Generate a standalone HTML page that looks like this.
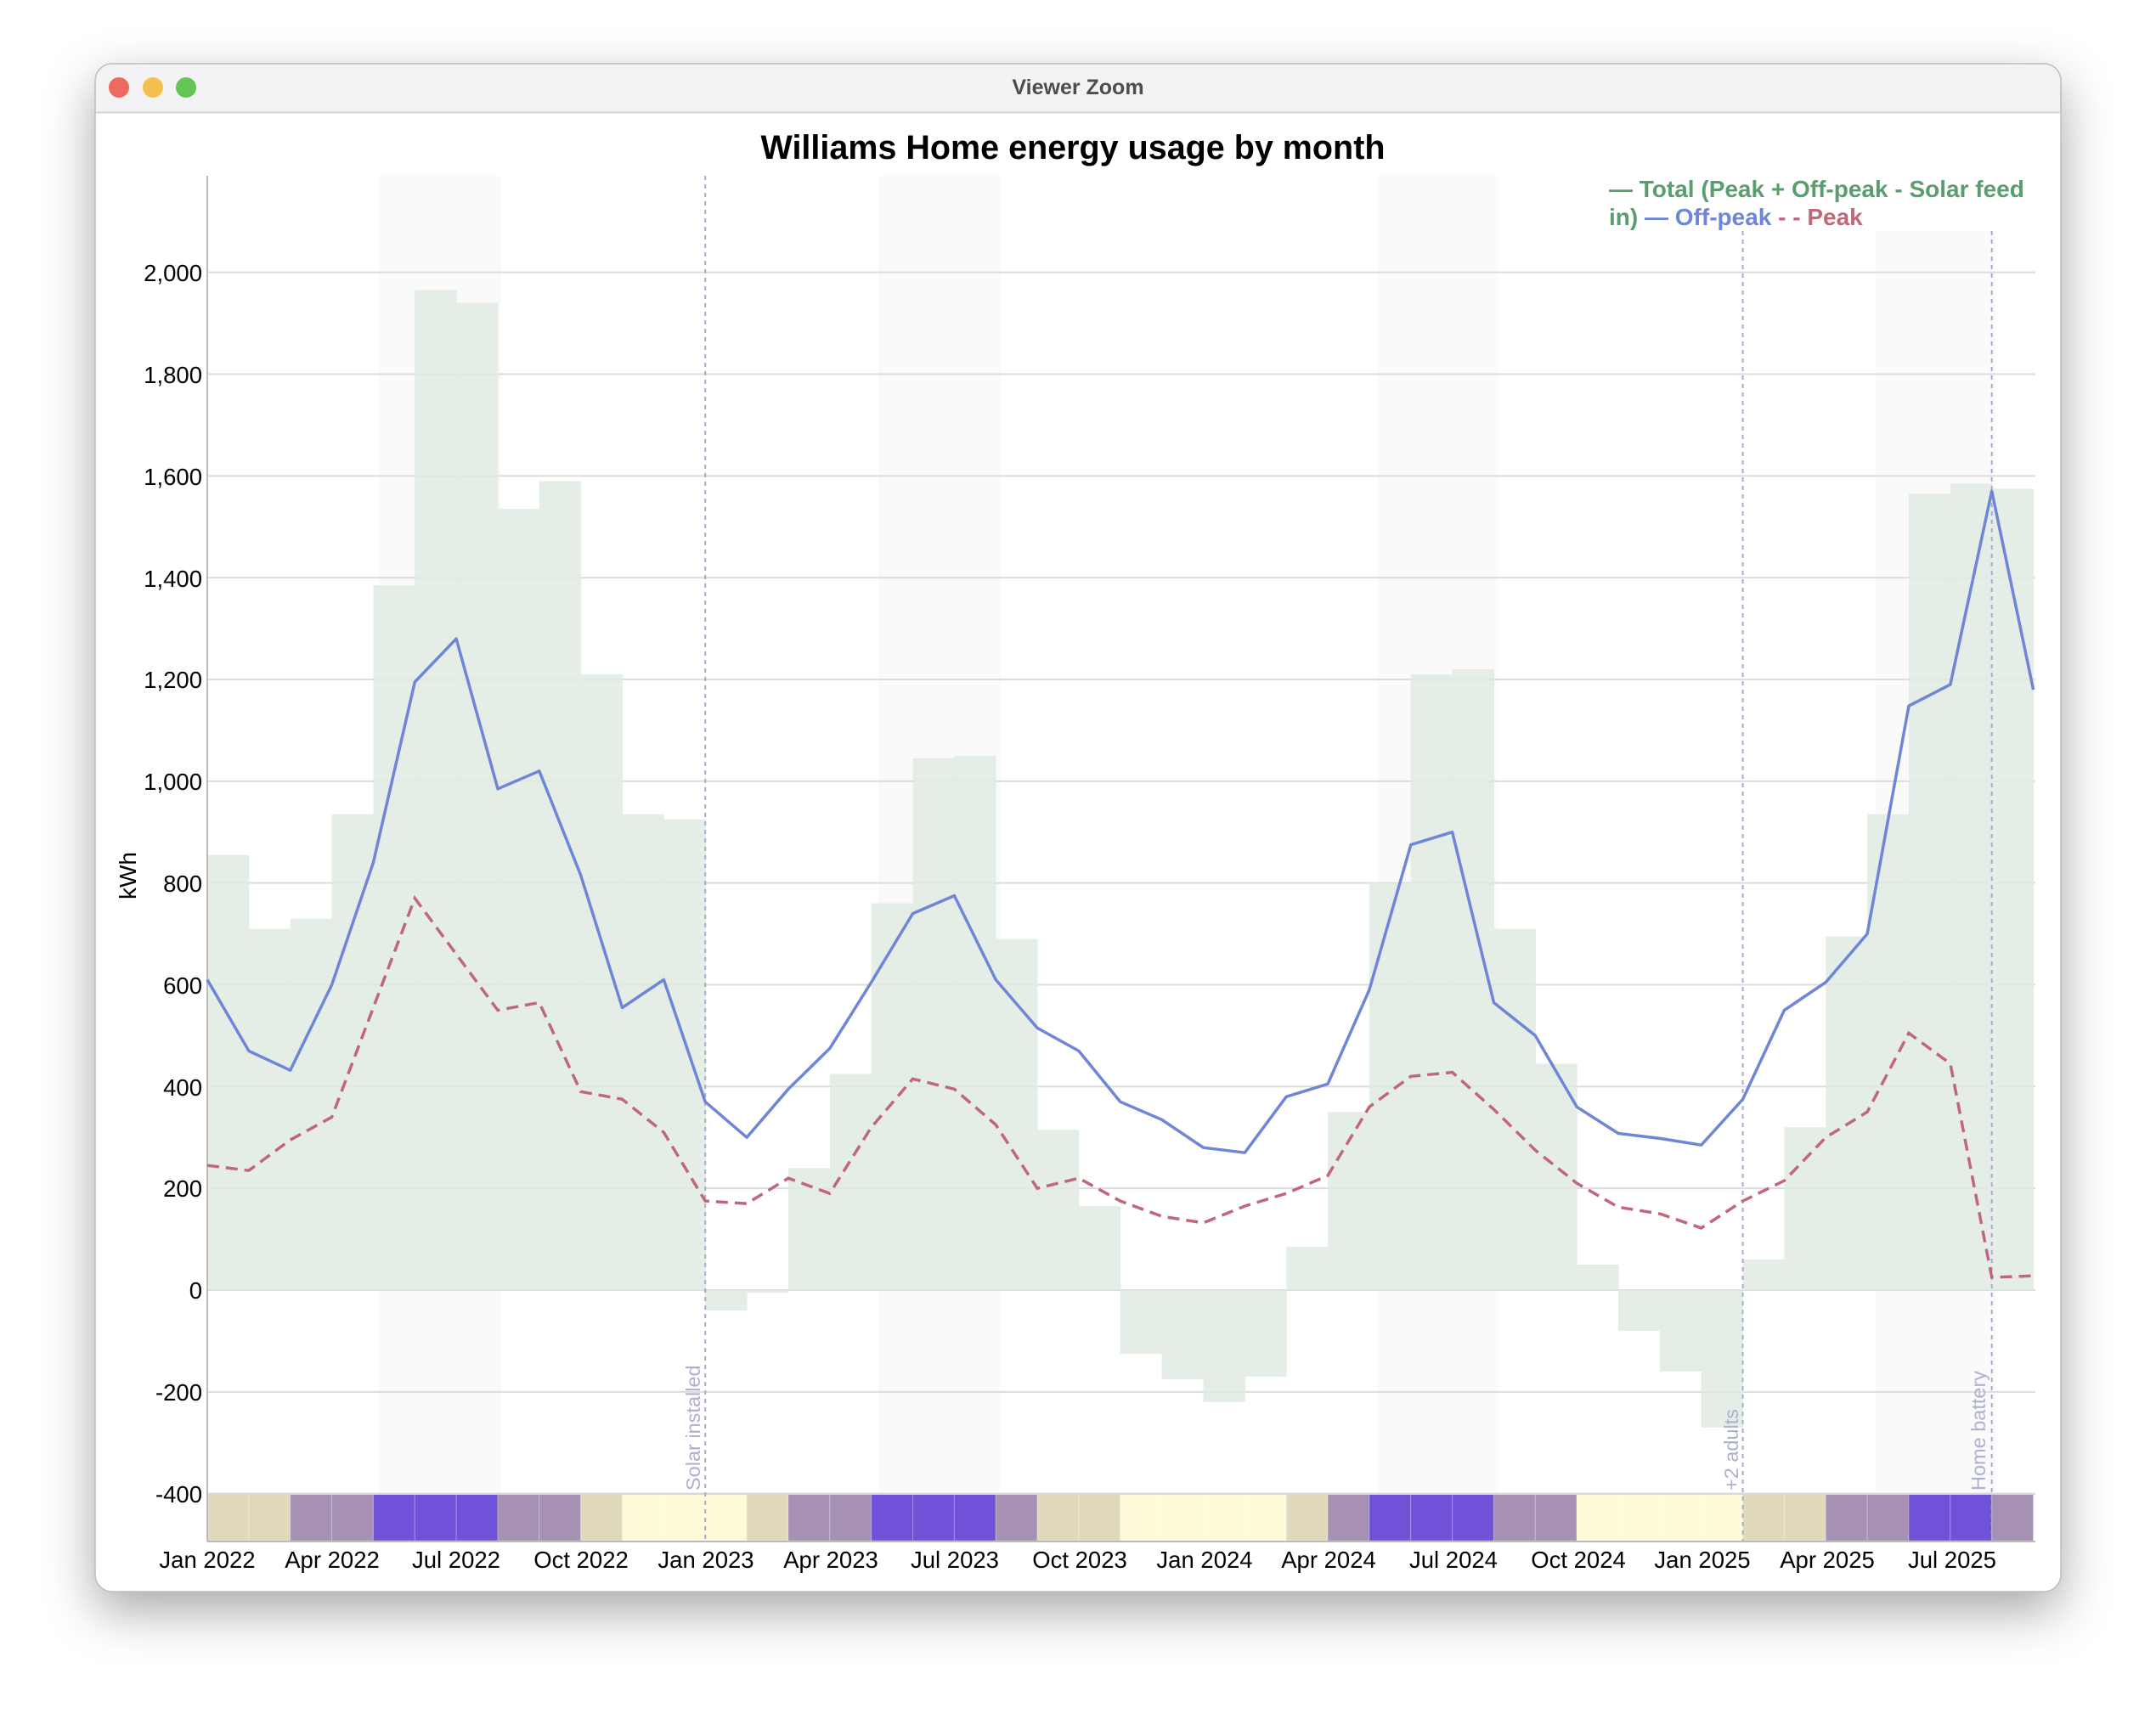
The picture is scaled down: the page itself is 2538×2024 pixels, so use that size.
<!DOCTYPE html>
<html><head><meta charset="utf-8"><style>
html,body{margin:0;padding:0;background:#fff;width:2538px;height:2024px;overflow:hidden}
svg{display:block;font-family:"Liberation Sans",Arial,sans-serif}
</style></head><body>
<svg id="s" width="2538" height="2024" viewBox="0 0 2538 2024" xmlns="http://www.w3.org/2000/svg">
<defs>
<filter id="sh" x="-10%" y="-10%" width="120%" height="125%"><feDropShadow dx="0" dy="22" stdDeviation="30" flood-color="#000" flood-opacity="0.35"/></filter>
<clipPath id="win"><rect x="112" y="75" width="2314" height="1799" rx="20"/></clipPath>
</defs>
<rect x="112" y="75" width="2314" height="1799" rx="20" fill="#fff" filter="url(#sh)"/>
<g clip-path="url(#win)">
<rect x="112" y="75" width="2314" height="57" fill="#f3f2f5"/>
<line x1="112" y1="132.5" x2="2426" y2="132.5" stroke="#d6d6d6" stroke-width="2"/>
</g>
<rect x="112" y="75" width="2314" height="1799" rx="20" fill="none" stroke="#bdbdbd" stroke-width="1.5"/>
<circle cx="140" cy="103" r="12" fill="#ee6a5f"/>
<circle cx="180" cy="103" r="12" fill="#f5bf4f"/>
<circle cx="219" cy="103" r="12" fill="#62c554"/>
<text x="1269" y="111" text-anchor="middle" font-size="25" font-weight="bold" fill="#4d4d4d">Viewer Zoom</text>
<text x="1263" y="187" text-anchor="middle" font-size="39.5" font-weight="bold" fill="#000">Williams Home energy usage by month</text>
<g id="plot"></g>
<g font-size="27.5" fill="#000" text-anchor="end">
<text x="238" y="331">2,000</text><text x="238" y="451">1,800</text><text x="238" y="571">1,600</text>
<text x="238" y="691">1,400</text><text x="238" y="810">1,200</text><text x="238" y="930">1,000</text>
<text x="238" y="1050">800</text><text x="238" y="1170">600</text><text x="238" y="1290">400</text>
<text x="238" y="1409">200</text><text x="238" y="1529">0</text><text x="238" y="1649">-200</text><text x="238" y="1769">-400</text>
</g>
<text transform="translate(160,1031) rotate(-90)" text-anchor="middle" font-size="28" fill="#000">kWh</text>
<g font-size="27.5" fill="#000" text-anchor="middle">
<text x="244" y="1846">Jan 2022</text><text x="391" y="1846">Apr 2022</text><text x="537" y="1846">Jul 2022</text>
<text x="684" y="1846">Oct 2022</text><text x="831" y="1846">Jan 2023</text><text x="978" y="1846">Apr 2023</text>
<text x="1124" y="1846">Jul 2023</text><text x="1271" y="1846">Oct 2023</text><text x="1418" y="1846">Jan 2024</text>
<text x="1564" y="1846">Apr 2024</text><text x="1711" y="1846">Jul 2024</text><text x="1858" y="1846">Oct 2024</text>
<text x="2004" y="1846">Jan 2025</text><text x="2151" y="1846">Apr 2025</text><text x="2298" y="1846">Jul 2025</text>
</g>
<g font-size="23.5" fill="#aeb0cf">
<text transform="translate(824,1755) rotate(-90)">Solar installed</text>
<text transform="translate(2046,1755) rotate(-90)">+2 adults</text>
<text transform="translate(2337,1755) rotate(-90)">Home battery</text>
</g>
<g font-size="28" font-weight="bold">
<text x="1894" y="232" fill="#5a9e6f">— Total (Peak + Off-peak - Solar feed</text>
<text x="1894" y="265"><tspan fill="#5a9e6f">in)</tspan><tspan fill="#6f86d6"> — Off-peak</tspan><tspan fill="#c0687a"> - - Peak</tspan></text>
</g>
</svg>
<script>
var NS="http://www.w3.org/2000/svg",g=document.getElementById("plot");
function el(t,a){var e=document.createElementNS(NS,t);for(var k in a)e.setAttribute(k,a[k]);g.appendChild(e);return e;}
var L=244,R=2396,W=(R-L)/44.05;function X(i){return L+i*W;}function Y(v){return 1519-v*0.59917;}
[[4.14,7.09,207],[16.16,19.1,207],[28.2,31.1,207],[40.2,43.1,272]].forEach(function(b){el("rect",{x:X(b[0]),y:b[2],width:X(b[1])-X(b[0]),height:1759-b[2],fill:"#fafafa"});});
for(var v=-400;v<=2000;v+=200){el("line",{x1:L,x2:R,y1:Y(v),y2:Y(v),stroke:"#dcdcdc","stroke-width":2});}
var bars=[855,710,730,935,1385,1965,1940,1535,1590,1210,935,925,-40,-5,240,425,760,1045,1050,690,315,165,-125,-175,-220,-170,85,350,800,1210,1220,710,445,50,-80,-160,-270,60,320,695,935,1565,1585,1575];
bars.forEach(function(b,i){var y0=Y(0),y1=Y(b);el("rect",{x:X(i),y:Math.min(y0,y1),width:W+0.5,height:Math.abs(y1-y0),fill:"#dfebe3","fill-opacity":0.85});});
var C={B:"#e0d9bb",P:"#a690b3",U:"#7052d8",Y:"#fefbd8"};
"BBPPUUUPPBYYYBPPUUUPBBYYYYBPUUUPPYYYYBBPPUUP".split("").forEach(function(c,i){el("rect",{x:X(i),y:1759,width:W,height:55,fill:C[c],stroke:"rgba(255,255,255,0.25)","stroke-width":1});});
el("line",{x1:L,x2:R,y1:1759,y2:1759,stroke:"#d8d8d8","stroke-width":2});
el("line",{x1:L,x2:R,y1:1815,y2:1815,stroke:"#bbb","stroke-width":2});
el("line",{x1:L,x2:L,y1:207,y2:1815,stroke:"#bbb","stroke-width":2});
[[12,207],[37,272],[43,272]].forEach(function(a){el("line",{x1:X(a[0]),x2:X(a[0]),y1:a[1],y2:1814,stroke:"#a9aacb","stroke-width":2,"stroke-dasharray":"5,5"});});
var off=[610,470,432,600,840,1195,1280,985,1020,815,555,610,370,300,395,475,605,740,775,610,515,470,370,335,280,270,380,405,590,875,900,565,500,360,308,298,285,375,550,605,700,1148,1190,1570,1180];
var pk=[245,235,295,340,555,770,660,550,565,390,375,310,175,170,220,190,320,415,395,325,200,220,175,145,132,165,190,225,360,420,428,355,275,210,163,150,122,175,215,300,350,505,445,25,28];
function pts(a){return a.map(function(v,i){return X(i).toFixed(1)+","+Y(v).toFixed(1);}).join(" ");}
el("polyline",{points:pts(off),fill:"none",stroke:"#6f86d6","stroke-width":3.5,"stroke-linejoin":"round"});
el("polyline",{points:pts(pk),fill:"none",stroke:"#c0687a","stroke-width":3.5,"stroke-dasharray":"14,8"});
</script>
</body></html>
